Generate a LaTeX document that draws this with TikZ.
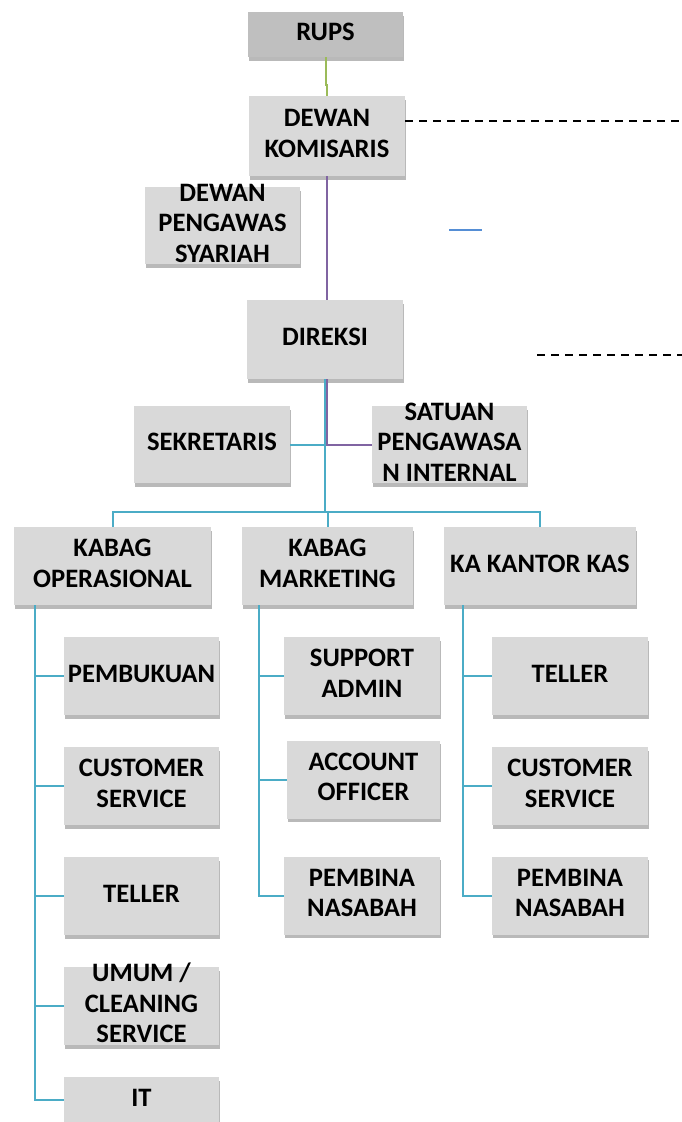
\documentclass[tikz,border=0pt]{standalone}
\usepackage{fontspec}
\setmainfont{Carlito}
\usepackage{tikz}
\usetikzlibrary{shadows}

\definecolor{boxgray}{HTML}{D9D9D9}
\definecolor{rupsgray}{HTML}{BFBFBF}
\definecolor{orgteal}{HTML}{4BACC6}
\definecolor{orgpurple}{HTML}{8064A2}
\definecolor{orggreen}{HTML}{9BBB59}
\definecolor{orgblue}{HTML}{558ED5}

% text of a box, centred on the box and allowed to run over its edges
\newcommand{\boxtext}[1]{\vbox to 0pt{\vss\hbox{\raisebox{3pt}{\begin{tabular}{@{}c@{}}#1\end{tabular}}}\vss}}

\begin{document}
\begin{tikzpicture}
  [x=1pt,y=-1pt,
   unit/.style={rectangle,inner sep=0pt,fill=boxgray,
     minimum width=155pt,minimum height=78pt,
     font=\fontsize{26.6}{30.5}\selectfont\bfseries,
     drop shadow={shadow xshift=1pt,shadow yshift=-3.5pt,fill=black!50,opacity=.55}},
   link/.style={draw=orgteal,line width=2pt},
   purpleline/.style={draw=orgpurple,line width=2pt},
   greenline/.style={draw=orggreen,line width=2pt},
   blueline/.style={draw=orgblue,line width=2pt},
   dashline/.style={draw=black,line width=1.8pt,dash pattern=on 8pt off 6pt}]
  \useasboundingbox (0,0) rectangle (682,1122);

  \node [unit,fill=rupsgray,minimum width=155pt,minimum height=45pt] (rups) at (325.5,34.5) {\boxtext{RUPS}};
  \node [unit,minimum width=156pt,minimum height=80pt] (dk) at (327,136) {\boxtext{DEWAN\\KOMISARIS}};
  \node [unit,minimum height=77pt] (dps) at (222.5,225.5) {\boxtext{DEWAN\\PENGAWAS\\SYARIAH}};
  \node [unit,minimum width=156pt,minimum height=79pt] (direksi) at (325,339.5) {\boxtext{DIREKSI}};
  \node [unit,minimum width=156pt,minimum height=77pt] (sekretaris) at (212,444.5) {\boxtext{SEKRETARIS}};
  \node [unit,minimum height=77pt] (spi) at (449.5,444.5) {\boxtext{SATUAN\\PENGAWASA\\N INTERNAL}};

  \node [unit,minimum width=197pt] (kabagop) at (112.5,566) {\boxtext{KABAG\\OPERASIONAL}};
  \node [unit,minimum width=171pt] (kabagmkt) at (327.5,566) {\boxtext{KABAG\\MARKETING}};
  \node [unit,minimum width=192pt] (kakas) at (540,566) {\boxtext{KA KANTOR KAS}};

  \node [unit] (pembukuan) at (141.5,676) {\boxtext{PEMBUKUAN}};
  \node [unit] (opcs) at (141.5,786) {\boxtext{CUSTOMER\\SERVICE}};
  \node [unit] (opteller) at (141.5,896) {\boxtext{TELLER}};
  \node [unit] (umum) at (141.5,1006) {\boxtext{UMUM /\\CLEANING\\SERVICE}};
  \node [unit,minimum height=46pt] (it) at (141.5,1100) {\boxtext{IT}};

  \node [unit,minimum width=156pt] (support) at (362,676) {\boxtext{SUPPORT\\ADMIN}};
  \node [unit,minimum width=153pt] (ao) at (363.5,779.5) {\boxtext{ACCOUNT\\OFFICER}};
  \node [unit,minimum width=156pt] (mktpembina) at (362,895.5) {\boxtext{PEMBINA\\NASABAH}};

  \node [unit,minimum width=156pt] (kasteller) at (570,676) {\boxtext{TELLER}};
  \node [unit,minimum width=156pt] (kascs) at (570,786) {\boxtext{CUSTOMER\\SERVICE}};
  \node [unit,minimum width=156pt] (kaspembina) at (570,895.5) {\boxtext{PEMBINA\\NASABAH}};

  \coordinate (bus) at (325,512);
  \coordinate (dashend) at (682,121);
  \coordinate (dashstart) at (537,355);
  \coordinate (bluemark) at (449,230);

  \draw [greenline] (rups.south) -- ++(0,28) -| (dk.north);
  \draw [purpleline] (dk.south) -- (dk.south |- direksi.north);
  \draw [purpleline] ([xshift=2pt]direksi.south) |- (spi.west);
  \draw [link] (direksi.south) -- (bus);
  \draw [link] (sekretaris.east) -- (sekretaris.east -| direksi.south);

  \foreach \to in {kabagop,kabagmkt,kakas}
    \draw [link] (bus) -| (\to.north);
  \foreach \to in {pembukuan,opcs,opteller,umum,it}
    \draw [link] ([xshift=21pt]kabagop.south west) |- (\to.west);
  \foreach \to in {support,ao,mktpembina}
    \draw [link] ([xshift=17pt]kabagmkt.south west) |- (\to.west);
  \foreach \to in {kasteller,kascs,kaspembina}
    \draw [link] ([xshift=19pt]kakas.south west) |- (\to.west);

  \draw [dashline] ([yshift=15pt]dk.east) -- (dashend);
  \draw [dashline] (dashstart) -- ++(145,0);
  \draw [blueline] (bluemark) -- ++(33,0);

\end{tikzpicture}
\end{document}
